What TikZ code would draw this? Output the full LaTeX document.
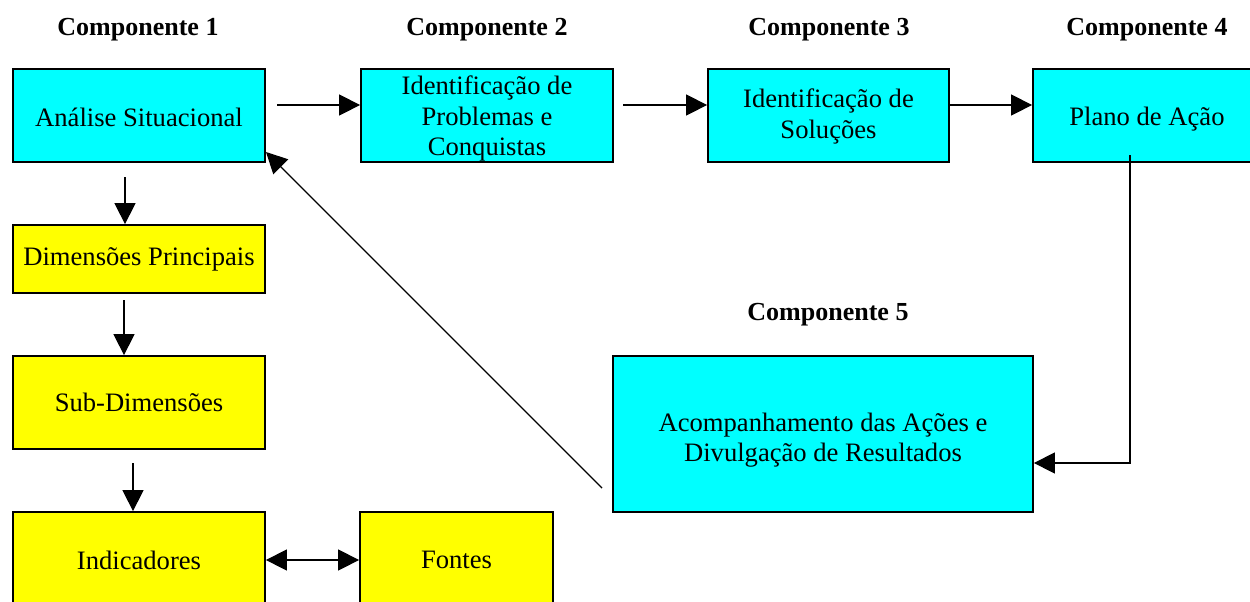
\documentclass[tikz,border=0pt]{standalone}
\usepackage{fontspec}
\setmainfont{Liberation Serif}
\usetikzlibrary{arrows.meta}
\definecolor{boxcyan}{HTML}{00FFFF}
\definecolor{boxyellow}{HTML}{FFFF00}
\tikzset{
  basebox/.style={draw=black, line width=0.9pt, align=center, inner sep=1pt,
    font=\fontsize{13.3}{15.2}\selectfont, text=black},
  boxtext/.style={align=center, inner sep=0pt, font=\fontsize{13.3}{15.2}\selectfont, text=black},
  cbox/.style={basebox, fill=boxcyan},
  ybox/.style={basebox, fill=boxyellow},
  header/.style={font=\fontsize{13}{15}\selectfont\bfseries},
  arr/.style={line width=0.7pt, -{Triangle[length=10.5pt,width=10.5pt]}},
  darr/.style={line width=0.7pt, {Triangle[length=10.5pt,width=10.5pt]}-{Triangle[length=10.5pt,width=10.5pt]}},
  plain/.style={line width=0.7pt}
}
\begin{document}
\begin{tikzpicture}[x=0.5pt,y=-0.5pt]
\useasboundingbox (0,0) rectangle (1250,601);
\clip (0,0) rectangle (1250,601);
\fill[white] (0,0) rectangle (1250,601);

% headers
\node[header] (h1) at (138,30) {Componente 1};
\node[header] (h2) at (487,30) {Componente 2};
\node[header] (h3) at (829,30) {Componente 3};
\node[header] (h4) at (1147,30) {Componente 4};
\node[header] (h5) at (828,315) {Componente 5};

% boxes
\node[cbox, minimum width=126pt, minimum height=46.5pt,
  label={[boxtext, yshift=-1pt]center:Análise Situacional}] (ana) at (139,115.5) {};
\node[cbox, minimum width=126pt, minimum height=46.5pt,
  label={[boxtext, yshift=-1.5pt]center:{Identificação de\\Problemas e\\Conquistas}}] (prob) at (487,115.5) {};
\node[cbox, minimum width=120.5pt, minimum height=46.5pt,
  label={[boxtext, yshift=-0.5pt]center:{Identificação de\\Soluções}}] (sol) at (828.5,115.5) {};
\node[cbox, minimum width=114pt, minimum height=46.5pt,
  label={[boxtext, yshift=-2pt]center:Plano de Ação}] (plano) at (1147,115.5) {};
\node[ybox, minimum width=126pt, minimum height=34pt] (dim) at (139,259) {Dimensões Principais};
\node[ybox, minimum width=126pt, minimum height=46.5pt] (sub) at (139,402.5) {Sub-Dimensões};
\node[ybox, minimum width=126pt, minimum height=48pt] (ind) at (139,560) {Indicadores};
\node[ybox, minimum width=96.5pt, minimum height=48pt] (fon) at (456.5,560) {Fontes};
\node[cbox, minimum width=210pt, minimum height=78pt,
  label={[boxtext, yshift=-3pt]center:{Acompanhamento das Ações e\\Divulgação de Resultados}}] (acomp) at (823,434) {};

% free ends
\coordinate (a1) at (277,105);
\coordinate (a2) at (623,105);
\coordinate (a3) at (949,105);
\coordinate (v1) at (125,177);
\coordinate (v2) at (124,300);
\coordinate (v3) at (133,463);
\coordinate (p1) at (1130,155);
\coordinate (p2) at (1130,463);
\coordinate (d1) at (602,488);
\coordinate (d2) at (266,152);

% connectors
\draw[arr] (a1) -- (prob.west |- a1);
\draw[arr] (a2) -- (sol.west |- a2);
\draw[arr] (a3) -- (plano.west |- a3);
\draw[arr] (v1) -- (dim.north -| v1);
\draw[arr] (v2) -- (sub.north -| v2);
\draw[arr] (v3) -- (ind.north -| v3);
\draw[darr] (ind.east) -- (fon.west);
\draw[arr] (p1) -- (p2) -- (acomp.east |- p2);
\draw[arr] (d1) -- (d2);
\end{tikzpicture}
\end{document}
